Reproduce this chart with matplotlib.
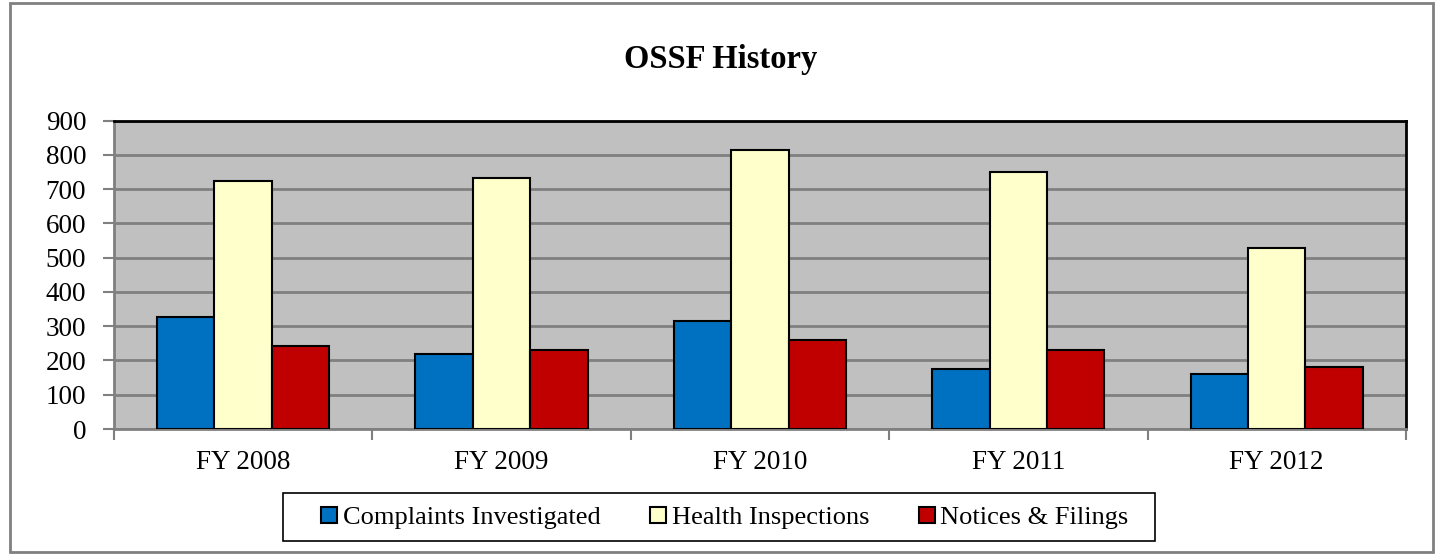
import numpy as np
import matplotlib.pyplot as plt
from matplotlib.patches import Rectangle

# datos
years = ["FY 2008", "FY 2009", "FY 2010", "FY 2011", "FY 2012"]
complaints = [328, 219, 314, 176, 161]
inspections = [725, 732, 814, 749, 528]
notices = [243, 232, 261, 232, 180]

plt.rcParams['font.family'] = ['Liberation Serif', 'DejaVu Serif']

fig = plt.figure(figsize=(14.42, 5.54), dpi=100)
ax = fig.add_axes([0.079, 0.2256, 0.896, 0.5566])

x = np.arange(len(years))
w = 0.222
ax.bar(x - w, complaints, w, color='#0070C0', edgecolor='black', linewidth=1.5,
       label='Complaints Investigated', zorder=3)
ax.bar(x, inspections, w, color='#FFFFCC', edgecolor='black', linewidth=1.5,
       label='Health Inspections', zorder=3)
ax.bar(x + w, notices, w, color='#C00000', edgecolor='black', linewidth=1.5,
       label='Notices & Filings', zorder=3)

ax.set_facecolor('#C0C0C0')
ax.set_xlim(-0.5, len(years) - 0.5)
ax.set_ylim(0, 900)
ax.set_yticks(range(0, 901, 100))
ax.yaxis.grid(True, color='#808080', linewidth=2)
ax.set_axisbelow(True)

# etiquetas de categoria al centro, ticks en los bordes
ax.set_xticks(x)
ax.set_xticklabels(years)
ax.set_xticks(np.arange(-0.5, len(years)), minor=True)
ax.tick_params(axis='x', which='major', length=0, pad=15, labelsize=19.5)
ax.tick_params(axis='x', which='minor', length=8, width=1.5, color='#808080', direction='out')
ax.tick_params(axis='y', length=8, width=1.5, color='#808080', labelsize=19.5, pad=12)

ax.spines['top'].set_color('black')
ax.spines['right'].set_color('black')
ax.spines['left'].set_color('#808080')
ax.spines['bottom'].set_color('#808080')
for s in ax.spines.values():
    s.set_linewidth(2)

fig.text(0.5, 0.893, 'OSSF History', ha='center', va='center', fontsize=23.5,
         fontweight='bold')

leg = fig.legend(loc='center', bbox_to_anchor=(725 / 1442, 1 - 518 / 554), ncol=3,
                 fontsize=19, frameon=False,
                 handlelength=0.6, handleheight=0.6, handletextpad=0.2,
                 columnspacing=1.9)

# caja de la leyenda y borde exterior
fig.patches.append(Rectangle((283 / 1442, 1 - 541 / 554), 872 / 1442, 48 / 554,
                             transform=fig.transFigure, fill=False,
                             edgecolor='black', linewidth=1.2))
fig.patches.append(Rectangle((10 / 1442, 2 / 554), 1423 / 1442, 549 / 554,
                             transform=fig.transFigure, fill=False,
                             edgecolor='#808080', linewidth=2))

fig.savefig('out.png', dpi=100)
